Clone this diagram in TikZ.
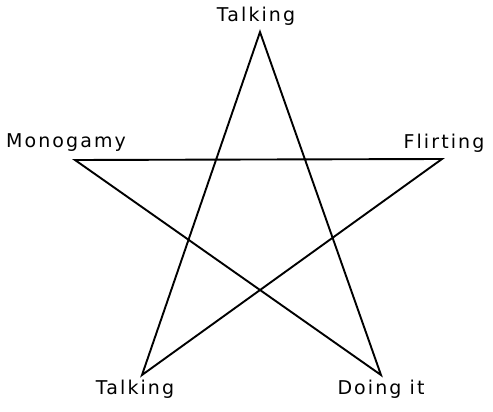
\documentclass[tikz,border=0pt]{standalone}
\usepackage{fontspec}
\newfontfamily\starfont[LetterSpace=11]{DejaVu Sans}
\usetikzlibrary{positioning}
\tikzset{
    % --- Corner label of the star ---
    corner label/.style = {
        font=\starfont\fontsize{19}{20}\selectfont,
        inner sep=0pt
    },
    % --- Star outline ---
    star line/.style = {
        line width=1.9pt, line join=miter
    }
}
\begin{document}
\begin{tikzpicture}[x=1pt, y=-1pt]
\useasboundingbox (0,0) rectangle (493,412);

% ---------------------------------------------------------
% Star corners
% ---------------------------------------------------------
\coordinate (top)   at (260, 32);
\coordinate (left)  at (75, 160);
\coordinate (right) at (442, 159);
\coordinate (botL)  at (142, 375);
\coordinate (botR)  at (381, 375);

% ---------------------------------------------------------
% Labels
% ---------------------------------------------------------
\node[corner label] (talkTop) at (256, 16)  {Talking};
\node[corner label] (mono)    at (66, 143)  {Monogamy};
\node[corner label] (flirt)   at (444, 143) {Flirting};
\node[corner label] (talkBot) at (135, 389) {Talking};
\node[corner label] (doing)   at (381, 389) {Doing it};

% ---------------------------------------------------------
% Star outline
% ---------------------------------------------------------
\draw[star line] (top) -- (botL) -- (right) -- (left) -- (botR) -- cycle;

\end{tikzpicture}
\end{document}
